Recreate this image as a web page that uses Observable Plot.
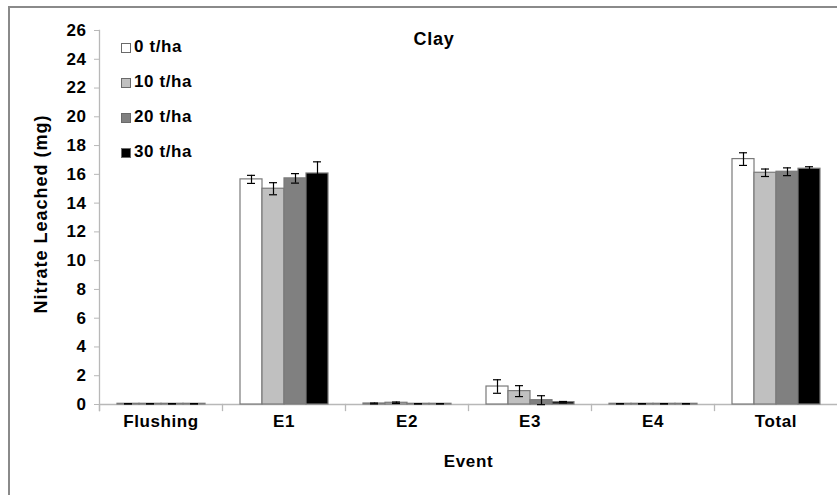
<!DOCTYPE html>
<html>
<head>
<meta charset="utf-8">
<script src="https://cdn.jsdelivr.net/npm/d3@7"></script>
<script src="https://cdn.jsdelivr.net/npm/@observablehq/plot@0.6"></script>
<style>
  html, body { margin: 0; padding: 0; background: #fff; overflow: hidden; }
  #wrap { position: relative; width: 837px; height: 495px; overflow: hidden; font-family: "Liberation Sans", Arial, sans-serif; font-weight: bold;
    background:
      linear-gradient(#8a8a8a, #8a8a8a) 8px 6px / 829px 2px no-repeat,
      linear-gradient(#8a8a8a, #8a8a8a) 8px 6px / 2px 489px no-repeat,
      #fff; }
  #chart { position: absolute; left: 0; top: 0; }
  #chart svg { max-width: none !important; display: block; }
  #title { position: absolute; left: 434px; top: 30px; transform: translateX(-50%); font-size: 18px; line-height: 18px; letter-spacing: 0.7px; color: #000; white-space: nowrap; }
  #ylabel { position: absolute; left: 41px; top: 214px; transform: translate(-50%, -50%) rotate(-90deg); font-size: 18px; line-height: 18px; letter-spacing: 1px; color: #000; white-space: nowrap; }
  #legend { position: absolute; left: 121px; top: 39px; }
  .item { display: flex; align-items: flex-end; height: 16px; margin-bottom: 19px; font-size: 17px; line-height: 16px; letter-spacing: 0.6px; color: #000; white-space: nowrap; }
  .sw { width: 10px; height: 10px; box-sizing: border-box; border: 1px solid #6a6a6a; margin-right: 3px; margin-bottom: 2px; }
</style>
</head>
<body>
<div id="wrap">
  <div id="chart"></div>
  <div id="title"></div>
  <div id="ylabel"></div>
  <div id="legend"></div>
</div>
<script>
const events = ["Flushing", "E1", "E2", "E3", "E4", "Total"];
const treatments = ["0 t/ha", "10 t/ha", "20 t/ha", "30 t/ha"];
const colors = ["#ffffff", "#c0c0c0", "#808080", "#000000"];
const mean0  = [0.05, 15.65, 0.07, 1.25, 0.05, 17.06];
const mean10 = [0.05, 15.00, 0.12, 0.93, 0.05, 16.11];
const mean20 = [0.05, 15.72, 0.05, 0.30, 0.05, 16.18];
const mean30 = [0.05, 16.06, 0.05, 0.16, 0.05, 16.39];
const err0  = [0.01, 0.28, 0.03, 0.47, 0.01, 0.44];
const err10 = [0.01, 0.42, 0.05, 0.38, 0.01, 0.26];
const err20 = [0.01, 0.33, 0.01, 0.31, 0.01, 0.27];
const err30 = [0.01, 0.81, 0.01, 0.05, 0.01, 0.14];
const yTicks = [0, 2, 4, 6, 8, 10, 12, 14, 16, 18, 20, 22, 24, 26];
const title = "Clay";
const yLabel = "Nitrate Leached (mg)";
const xLabel = "Event";

const means = [mean0, mean10, mean20, mean30];
const errs = [err0, err10, err20, err30];
const data = [];
events.forEach((ev, i) => {
  treatments.forEach((t, j) => {
    data.push({event: ev, trt: t, value: means[j][i], err: errs[j][i]});
  });
});

const W = 837, H = 495, mT = 30, mB = 91, mL = 98;
const plotH = H - mT - mB;

const chart = Plot.plot({
  width: W, height: H,
  marginLeft: mL, marginRight: -1, marginTop: mT, marginBottom: mB,
  style: {fontFamily: '"Liberation Sans", Arial, sans-serif', fontWeight: "bold", fontSize: "17px", color: "#000", background: "transparent", letterSpacing: "0.6px", maxWidth: "none"},
  fx: {domain: events, padding: 0, label: null},
  x: {domain: treatments, paddingInner: 0, paddingOuter: 0.77, axis: null},
  y: {domain: [0, 26], axis: null},
  color: {domain: treatments, range: colors},
  marks: [
    Plot.ruleY([0], {stroke: "#b8b8b8", strokeWidth: 1.3}),
    Plot.frame({anchor: "left", facetAnchor: "left", stroke: "#b8b8b8", strokeWidth: 1.3, insetBottom: -6}),
    Plot.frame({anchor: "left", stroke: "#b8b8b8", strokeWidth: 1.3, insetTop: plotH, insetBottom: -6}),
    Plot.axisY(yTicks, {anchor: "left", tickSize: 5, tickPadding: 8, stroke: "#b8b8b8", fill: "#000", label: null, fontSize: 17}),
    Plot.axisFx({anchor: "bottom", tickSize: 0, tickPadding: 10, label: xLabel, labelAnchor: "center", labelOffset: 62, labelArrow: "none", fontSize: 17}),
    Plot.barY(data, {fx: "event", x: "trt", y: "value", fill: "trt", stroke: "#7a7a7a", strokeWidth: 1.2}),
    Plot.ruleX(data, {fx: "event", x: "trt", y1: d => d.value - d.err, y2: d => d.value + d.err, stroke: "#000", strokeWidth: 1.2}),
    Plot.tickY(data, {fx: "event", x: "trt", y: d => d.value + d.err, stroke: "#000", strokeWidth: 1.2, insetLeft: 7, insetRight: 7}),
    Plot.tickY(data, {fx: "event", x: "trt", y: d => d.value - d.err, stroke: "#000", strokeWidth: 1.2, insetLeft: 7, insetRight: 7})
  ]
});
chart.style.maxWidth = "none";
document.getElementById("chart").appendChild(chart);
document.getElementById("title").textContent = title;
document.getElementById("ylabel").textContent = yLabel;

const legend = document.getElementById("legend");
treatments.forEach((t, j) => {
  const item = document.createElement("div");
  item.className = "item";
  const sw = document.createElement("div");
  sw.className = "sw";
  sw.style.background = colors[j];
  const lab = document.createElement("span");
  lab.textContent = t;
  item.appendChild(sw);
  item.appendChild(lab);
  legend.appendChild(item);
});
</script>
</body>
</html>
